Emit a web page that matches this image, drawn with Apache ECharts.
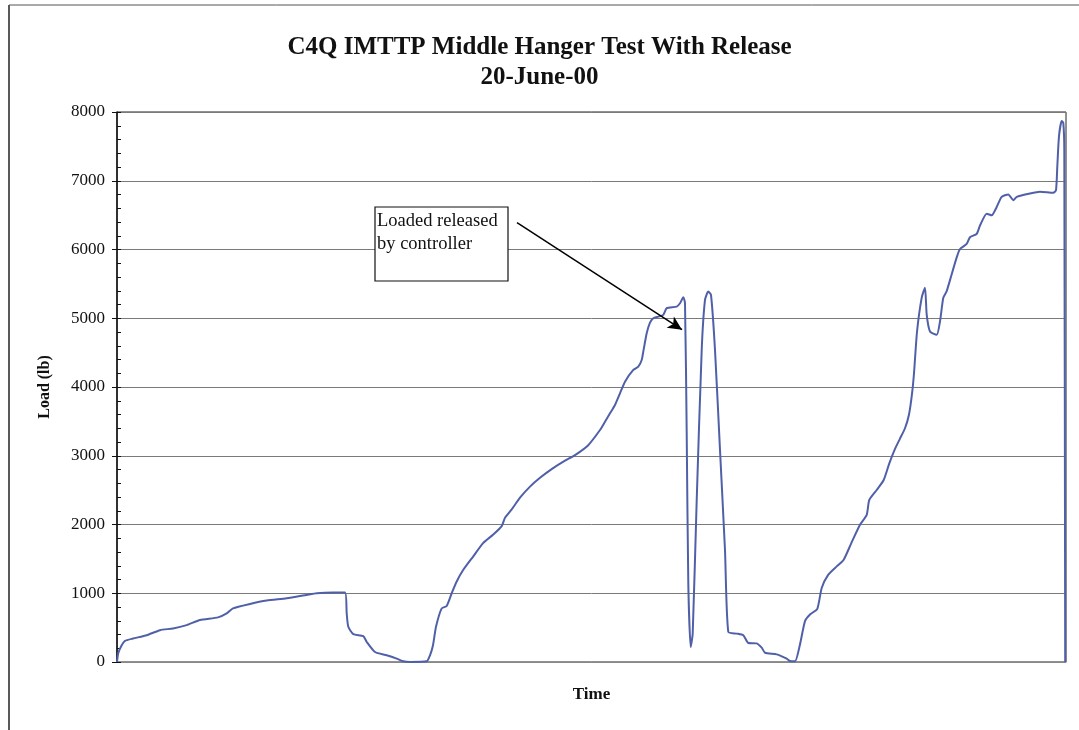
<!DOCTYPE html>
<html>
<head>
<meta charset="utf-8">
<script src="https://cdn.jsdelivr.net/npm/echarts@6/dist/echarts.min.js"></script>
<style>
html,body{margin:0;padding:0;background:#fff;}
#chart{width:1079px;height:730px;}
</style>
</head>
<body>
<div id="chart"></div>
<script>
// Time (arbitrary units, sample position) and load (lb)
const time = [
  0, 1.3, 4.7, 8, 16, 29.7, 43, 56, 69.7, 83, 101, 109.7, 116, 133, 149.7, 169.7, 189.7, 199.7, 216, 228,
  229.7, 231.3, 236.3, 246.3, 249.7, 258, 269.7, 279.7, 286.3, 293, 309.7, 313, 316, 319, 324.7, 329.7, 334.7, 339.7,
  346.3, 356.3, 366.3, 376.3, 384.7, 388, 394.7, 403, 413, 423, 435, 448, 458, 471, 483,
  488, 493, 498, 503, 508, 516.3, 521.3, 524.7, 526.3, 529.7, 533, 536.3, 541.3, 546.3, 549.7, 559.7, 563, 566.3,
  568, 569.7, 571.3, 573.7, 575.7, 579.7, 584.7, 588, 591.3, 594, 598, 603, 608, 611.3, 619.7, 626.3,
  631.3, 639.7, 644.7, 648, 659.7, 669.7, 673, 678, 683, 688, 693, 700.3, 704.7, 711.3, 719.7, 726.7, 734.3,
  743, 749.7, 752.3, 759.7, 766.7, 772.3, 778, 783, 788, 792, 795, 797, 800, 804.7, 808, 809.7, 813, 819.7,
  823, 826.3, 829.7, 834.7, 839.7, 843, 849.7, 853, 859.7, 863, 869.7, 874.7, 879.7, 884.7, 891.3, 896.3, 899.7,
  913, 923, 936.3, 939, 940.3, 942, 944.7, 946.3, 947.3, 948.2
];
const load = [
  0, 130, 244, 307, 341, 390, 463, 488, 537, 610, 649, 707, 780, 844, 893, 927, 976, 1000, 1010, 1010,
  707, 512, 405, 376, 293, 146, 98, 49, 10, 0, 10, 98, 244, 512, 780, 815, 1000, 1171,
  1341, 1537, 1732, 1854, 1976, 2098, 2220, 2390, 2551, 2680, 2810, 2930, 3010, 3150, 3374,
  3495, 3617, 3738, 3908, 4078, 4248, 4296, 4393, 4515, 4782, 4937, 5000, 5024, 5049, 5146, 5170, 5218, 5306,
  5218, 3325, 1141, 218, 413, 2354, 4539, 5267, 5388, 5340, 4539, 3083, 1626, 437, 413, 388,
  277, 271, 208, 135, 111, 48, 14, 10, 256, 594, 691, 773, 1077, 1271, 1391, 1488, 1729,
  1995, 2140, 2357, 2502, 2647, 2889, 3100, 3250, 3400, 3600, 3900, 4200, 4800, 5300, 5444, 5053, 4808, 4759,
  4955, 5298, 5395, 5640, 5885, 6007, 6081, 6179, 6228, 6350, 6521, 6497, 6619, 6766, 6801, 6717, 6766,
  6815, 6840, 6825, 6864, 7207, 7648, 7868, 7843, 7452, 0
];
const yTicks = [0, 1000, 2000, 3000, 4000, 5000, 6000, 7000, 8000];
const titleLines = ['C4Q IMTTP Middle Hanger Test With Release', '20-June-00'];
const noteLines = ['Loaded released', 'by controller'];
const arrowFrom = [400, 6392];
const arrowTo = [565, 4833];

const serif = '"Liberation Serif", "Times New Roman", serif';
const chart = echarts.init(document.getElementById('chart'));
const seriesData = time.map((t, i) => [t, load[i]]);

chart.setOption({
  animation: false,
  backgroundColor: '#ffffff',
  title: {
    text: titleLines.join('\n'),
    left: 'center',
    top: 28,
    textStyle: { fontFamily: serif, fontWeight: 'bold', fontSize: 25, lineHeight: 30, color: '#111' }
  },
  grid: {
    left: 117, right: 13, top: 112, bottom: 68,
    show: true, borderColor: '#222', borderWidth: 1, backgroundColor: '#fff'
  },
  xAxis: {
    type: 'value', min: 0, max: 949,
    name: 'Time', nameLocation: 'middle', nameGap: 24,
    nameTextStyle: { fontFamily: serif, fontWeight: 'bold', fontSize: 17, color: '#111' },
    axisLine: { show: true, lineStyle: { color: '#888', width: 1 } },
    axisTick: { show: false }, axisLabel: { show: false }, splitLine: { show: false }
  },
  yAxis: [{
    type: 'value', min: yTicks[0], max: yTicks[yTicks.length - 1], interval: 1000,
    name: 'Load (lb)', nameLocation: 'middle', nameGap: 64, nameRotate: 90,
    nameTextStyle: { fontFamily: serif, fontWeight: 'bold', fontSize: 16, color: '#111' },
    axisLine: { show: true, lineStyle: { color: '#111', width: 1.5 } },
    axisTick: { show: true, inside: false, length: 5, lineStyle: { color: '#111' } },
    axisLabel: { fontFamily: serif, fontSize: 17, color: '#111', margin: 12,
      formatter: v => String(v) },
    splitLine: { show: true, lineStyle: { color: '#7a7a7a', width: 1 } }
  }, {
    type: 'value', min: 0, max: 8000, interval: 200, position: 'left',
    axisLine: { show: false },
    axisTick: { show: true, inside: true, length: 4, lineStyle: { color: '#111' } },
    axisLabel: { show: false }, splitLine: { show: false }
  }],
  series: [{
    type: 'line',
    data: seriesData,
    showSymbol: false,
    smooth: 0.2,
    lineStyle: { color: '#5060a8', width: 2 },
    markLine: {
      silent: true,
      symbol: ['none', 'arrow'],
      symbolSize: [10, 14],
      label: { show: false },
      lineStyle: { color: '#000', width: 1.5, type: 'solid' },
      data: [[{ coord: arrowFrom }, { coord: arrowTo }]]
    }
  }],
  graphic: [
    { type: 'line', shape: { x1: 9, y1: 5, x2: 9, y2: 730 }, style: { stroke: '#222', lineWidth: 1.5 } },
    { type: 'line', shape: { x1: 9, y1: 5, x2: 1079, y2: 5 }, style: { stroke: '#555', lineWidth: 1 } },
    { type: 'rect', shape: { x: 375, y: 207, width: 133, height: 74 }, style: { fill: '#fff', stroke: '#111', lineWidth: 1.2 }, z: 10 },
    { type: 'text', left: 377, top: 210, z: 11,
      style: { text: noteLines.join('\n'), fontFamily: serif, fontSize: 18.5, lineHeight: 23, fill: '#111' } }
  ]
});
</script>
</body>
</html>
